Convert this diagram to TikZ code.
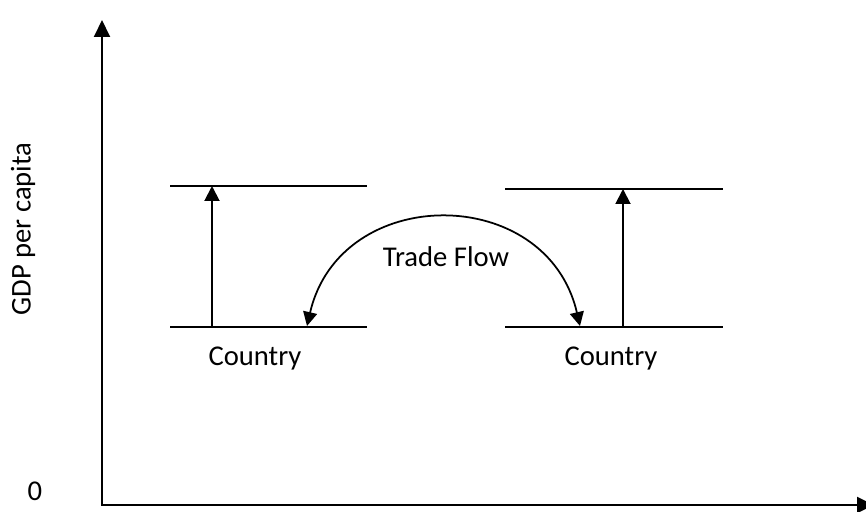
\documentclass[tikz,border=0pt]{standalone}
\usepackage{fontspec}
\setmainfont{Carlito}
\usetikzlibrary{arrows.meta}

\begin{document}
\begin{tikzpicture}[
  x=0.02cm, y=0.02cm,
  every node/.style={font=\fontsize{16.3}{19.6}\selectfont, inner sep=0pt},
  axis/.style={draw, line width=1.1pt, {Triangle[width=0.32cm,length=0.34cm]}-{Triangle[width=0.32cm,length=0.34cm]}},
  level/.style={draw, line width=1.1pt},
  rise/.style={draw, line width=1.1pt, -{Triangle[width=0.3cm,length=0.3cm]}},
  flow/.style={draw, line width=1pt, {Triangle[width=0.28cm,length=0.28cm]}-{Triangle[width=0.28cm,length=0.28cm]}},
]
\useasboundingbox (0,0) rectangle (866,511);
% axes
\coordinate (origin) at (102,6);
\coordinate (ytop) at (102,491);
\coordinate (xend) at (874,6);
\draw[axis] (ytop) -- (origin) -- (xend);
\node (zero) at (35,20) {0};
\node[rotate=90] (ylabel) at (23,282) {GDP per capita};
% the two countries
\foreach \cn/\l/\r/\a/\hi/\lx in {west/170/367/212/325/255,east/505/723/623/322/611}
{
  \coordinate (\cn-lo-l) at (\l,184);
  \coordinate (\cn-lo-r) at (\r,184);
  \coordinate (\cn-hi-l) at (\l,\hi);
  \coordinate (\cn-hi-r) at (\r,\hi);
  \coordinate (\cn-base) at (\a,184);
  \coordinate (\cn-peak) at (\a,\hi);
  \draw[level] (\cn-lo-l) -- (\cn-lo-r);
  \draw[level] (\cn-hi-l) -- (\cn-hi-r);
  \draw[rise] (\cn-base) -- (\cn-peak);
  \node (\cn-name) at (\lx,152) {Country};
}
% trade between them
\coordinate (west-tip) at (307,185);
\coordinate (east-tip) at (580,185);
\draw[flow] (west-tip) to[out=77, in=103, looseness=1.38] (east-tip);
\node (trade) at (446,254) {Trade Flow};
\end{tikzpicture}
\end{document}
